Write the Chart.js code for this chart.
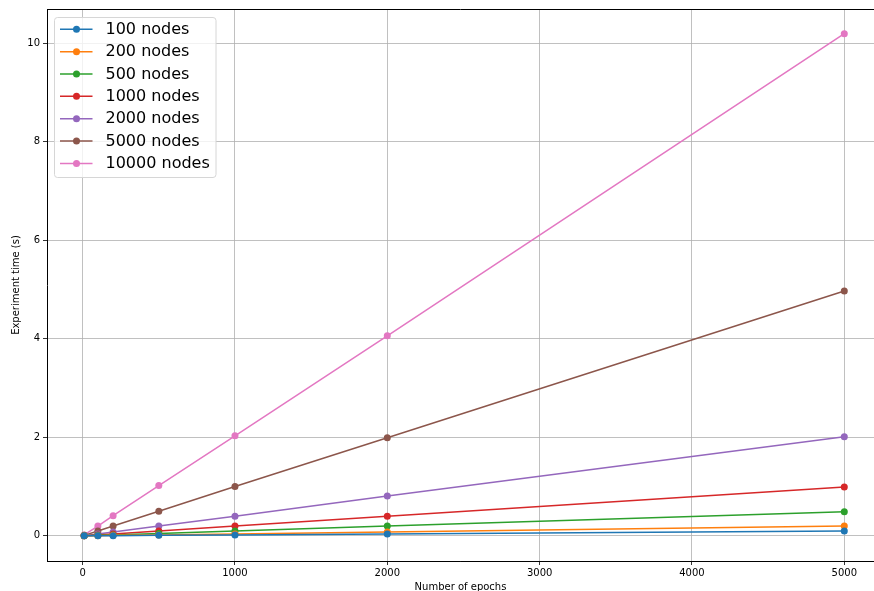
<!DOCTYPE html>
<html>
<head>
<meta charset="utf-8">
<script src="https://cdn.jsdelivr.net/npm/chart.js@4/dist/chart.umd.min.js"></script>
<style>
html,body{margin:0;padding:0;background:#fff;}
#wrap{width:874px;height:591px;position:relative;}
</style>
</head>
<body>
<div id="wrap"><canvas id="c" width="874" height="591"></canvas></div>
<script>
const epochs = [10, 100, 200, 500, 1000, 2000, 5000];
const seriesNames = ["100 nodes","200 nodes","500 nodes","1000 nodes","2000 nodes","5000 nodes","10000 nodes"];
const nodes100   = [0.00, 0.00, 0.00, 0.01, 0.02, 0.04, 0.10];
const nodes200   = [0.00, 0.00, 0.01, 0.02, 0.04, 0.08, 0.20];
const nodes500   = [0.00, 0.01, 0.02, 0.05, 0.10, 0.20, 0.49];
const nodes1000  = [0.00, 0.02, 0.04, 0.10, 0.20, 0.40, 0.99];
const nodes2000  = [0.00, 0.04, 0.08, 0.20, 0.40, 0.81, 2.01];
const nodes5000  = [0.01, 0.10, 0.20, 0.50, 1.00, 1.99, 4.97];
const nodes10000 = [0.02, 0.20, 0.41, 1.02, 2.03, 4.06, 10.19];
const xTicks = [0, 1000, 2000, 3000, 4000, 5000];
const yTicks = [0, 2, 4, 6, 8, 10];
const colors = ["#1f77b4","#ff7f0e","#2ca02c","#d62728","#9467bd","#8c564b","#e377c2"];

const allSeries = [nodes100,nodes200,nodes500,nodes1000,nodes2000,nodes5000,nodes10000];
const datasets = allSeries.map((vals,i)=>({
  label: seriesNames[i],
  data: vals.map((v,j)=>({x:epochs[j], y:v})),
  borderColor: colors[i],
  backgroundColor: colors[i],
  borderWidth: 1.5,
  pointRadius: 3.5,
  pointBorderWidth: 0,
  pointHoverRadius: 3.5,
  tension: 0,
  fill: false
}));

const FONT = "'DejaVu Sans', sans-serif";

const framePlugin = {
  id: 'frame',
  afterDraw(chart){
    const ctx = chart.ctx, a = chart.chartArea;
    ctx.save();
    ctx.strokeStyle = '#000';
    ctx.lineWidth = 1;
    ctx.beginPath();
    ctx.moveTo(a.left, Math.round(a.top)+0.5);
    ctx.lineTo(a.right, Math.round(a.top)+0.5);
    ctx.stroke();
    // legend
    const bx=54.5, by=17.5, bw=161.5, bh=160;
    const r=3;
    ctx.beginPath();
    ctx.moveTo(bx+r,by);
    ctx.lineTo(bx+bw-r,by); ctx.quadraticCurveTo(bx+bw,by,bx+bw,by+r);
    ctx.lineTo(bx+bw,by+bh-r); ctx.quadraticCurveTo(bx+bw,by+bh,bx+bw-r,by+bh);
    ctx.lineTo(bx+r,by+bh); ctx.quadraticCurveTo(bx,by+bh,bx,by+bh-r);
    ctx.lineTo(bx,by+r); ctx.quadraticCurveTo(bx,by,bx+r,by);
    ctx.closePath();
    ctx.fillStyle='rgba(255,255,255,0.8)';
    ctx.fill();
    ctx.strokeStyle='#d6d6d6';
    ctx.stroke();
    chart.data.datasets.forEach((ds,i)=>{
      const y = 29.3 + i*22.35;
      ctx.strokeStyle = ds.borderColor;
      ctx.lineWidth = 1.5;
      ctx.beginPath(); ctx.moveTo(60,y); ctx.lineTo(92.5,y); ctx.stroke();
      ctx.fillStyle = ds.borderColor;
      ctx.beginPath(); ctx.arc(76.5,y,3.5,0,Math.PI*2); ctx.fill();
      ctx.fillStyle = '#000';
      ctx.font = "16px " + FONT;
      ctx.textBaseline='middle';
      ctx.textAlign='left';
      ctx.fillText(ds.label, 105.5, y+0.5);
    });
    ctx.restore();
  }
};

new Chart(document.getElementById('c'), {
  type: 'line',
  data: { datasets },
  plugins: [framePlugin],
  options: {
    responsive: false,
    animation: false,
    devicePixelRatio: 1,
    layout: { autoPadding: false, padding: { top: 9, right: 0, left: 0, bottom: 0 } },
    plugins: { legend: { display: false }, tooltip: { enabled: false } },
    scales: {
      x: {
        type: 'linear',
        min: -234, max: 5195,
        afterBuildTicks(s){ s.ticks = xTicks.map(v=>({value:v})); },
        afterFit(s){ s.height = 30; },
        grid: { color: '#b0b0b0', lineWidth: 0.8, tickColor: '#000', tickLength: 4, drawTicks: true },
        border: { color: '#000', width: 1 },
        ticks: { color: '#000', font: { family: FONT, size: 10 }, padding: 2, maxRotation: 0, callback: v => String(v) },
        title: { display: true, text: 'Number of epochs', color: '#000', font: { family: FONT, size: 10 }, padding: { top: 0, bottom: -2 } }
      },
      y: {
        type: 'linear',
        min: -0.51, max: 10.69,
        afterBuildTicks(s){ s.ticks = yTicks.map(v=>({value:v})); },
        afterFit(s){ s.width = 47; },
        grid: { color: '#b0b0b0', lineWidth: 0.8, tickColor: '#000', tickLength: 4, drawTicks: true },
        border: { color: '#000', width: 1 },
        ticks: { color: '#000', font: { family: FONT, size: 10 }, padding: 3, callback: v => String(v) },
        title: { display: true, text: 'Experiment time (s)', color: '#000', font: { family: FONT, size: 10 }, padding: { top: 10, bottom: 0 } }
      }
    }
  }
});
</script>
</body>
</html>
